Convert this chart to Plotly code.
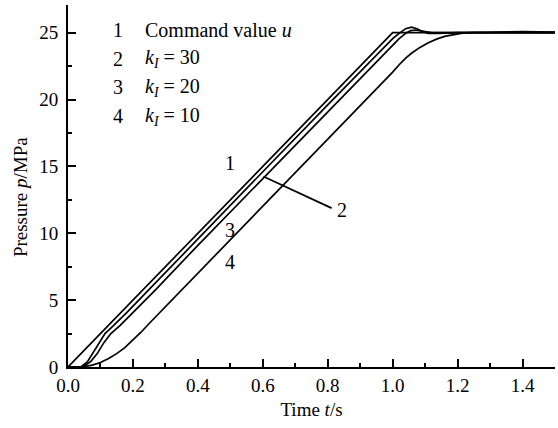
import plotly.graph_objects as go

# Command value u
t_cmd = [0.0, 1.0, 1.5]
p_cmd = [0.0, 25.0, 25.0]

# k_I = 30
t_k30 = [0.0, 0.04, 0.06, 0.08, 0.10, 0.114, 0.14, 0.18, 0.25, 0.4, 0.6, 0.8, 0.98,
         1.0, 1.02, 1.04, 1.058, 1.075, 1.09, 1.11, 1.14, 1.2, 1.3, 1.4, 1.5]
p_k30 = [0.0, 0.0, 0.4, 1.2, 2.0, 2.5, 3.1, 4.05, 5.8, 9.6, 14.6, 19.6, 24.08,
         24.55, 24.95, 25.3, 25.42, 25.3, 25.1, 24.95, 24.95, 25.0, 25.02, 25.08, 25.04]

# k_I = 20
t_k20 = [0.0, 0.045, 0.07, 0.09, 0.11, 0.132, 0.16, 0.2, 0.271, 0.4, 0.6, 0.8, 0.98,
         1.0, 1.02, 1.04, 1.055, 1.07, 1.09, 1.12, 1.2, 1.3, 1.4, 1.5]
p_k20 = [0.0, 0.0, 0.4, 1.0, 1.8, 2.5, 3.1, 4.05, 5.8, 9.1, 14.1, 19.1, 23.6,
         24.1, 24.55, 24.95, 25.15, 25.2, 25.1, 25.0, 25.0, 25.0, 24.98, 24.98]

# k_I = 10
t_k10 = [0.0, 0.03, 0.05, 0.075, 0.1, 0.125, 0.15, 0.175, 0.2, 0.225, 0.25, 0.3, 0.4,
         0.6, 0.8, 0.95, 0.975, 1.0, 1.02, 1.04, 1.06, 1.084, 1.11, 1.135, 1.16,
         1.186, 1.21, 1.24, 1.3, 1.4, 1.5]
p_k10 = [0.0, 0.0, 0.03, 0.14, 0.34, 0.63, 1.0, 1.45, 2.0, 2.6, 3.25, 4.5, 7.0,
         12.0, 17.0, 20.75, 21.4, 22.05, 22.6, 23.1, 23.5, 23.9, 24.25, 24.52, 24.72,
         24.86, 24.95, 25.0, 25.02, 25.06, 25.03]

legend_nums = ["1", "2", "3", "4"]
legend_texts = ["Command value <i>u</i>", "<i>k</i><sub><i>I</i></sub> = 30",
                "<i>k</i><sub><i>I</i></sub> = 20", "<i>k</i><sub><i>I</i></sub> = 10"]
legend_y = [25.2, 23.04, 20.91, 18.74]

curve_labels = ["1", "3", "4", "2"]
curve_label_t = [0.5, 0.5, 0.5, 0.844]
curve_label_p = [15.28, 10.26, 7.87, 11.76]

FONT = "Liberation Serif, Times New Roman, serif"

fig = go.Figure()
for tt, pp in [(t_cmd, p_cmd), (t_k30, p_k30), (t_k20, p_k20), (t_k10, p_k10)]:
    fig.add_trace(go.Scatter(x=tt, y=pp, mode="lines",
                             line=dict(color="black", width=1.7),
                             showlegend=False, hoverinfo="skip"))

for num, txt, yy in zip(legend_nums, legend_texts, legend_y):
    fig.add_annotation(x=0.155, y=yy, text=num, showarrow=False, xanchor="center",
                       yanchor="middle", font=dict(family=FONT, size=20, color="black"))
    fig.add_annotation(x=0.232, y=yy, text=txt, showarrow=False, xanchor="left",
                       yanchor="middle", font=dict(family=FONT, size=20, color="black"))

for lab, tx, py in zip(curve_labels, curve_label_t, curve_label_p):
    fig.add_annotation(x=tx, y=py, text=lab, showarrow=False, xanchor="center",
                       yanchor="middle", font=dict(family=FONT, size=20, color="black"))

# leader line for label 2
fig.add_shape(type="line", x0=0.602, y0=14.25, x1=0.812, y1=11.88,
              xref="x", yref="y", line=dict(color="black", width=1.7))

# y-axis title
fig.add_annotation(xref="paper", yref="paper", x=-0.096, y=0.47,
                   text="Pressure <i>p</i>/MPa", textangle=-90, showarrow=False,
                   xanchor="center", yanchor="middle",
                   font=dict(family=FONT, size=19, color="black"))

fig.update_layout(
    width=558, height=428,
    margin=dict(l=67.7, r=2.8, t=5, b=60.7),
    paper_bgcolor="white", plot_bgcolor="white",
    font=dict(family=FONT, size=19, color="black"),
    xaxis=dict(range=[0, 1.5], dtick=0.2, tick0=0, tickformat=".1f",
               showline=True, linecolor="black", linewidth=2,
               ticks="inside", ticklen=8, tickwidth=2, tickcolor="black",
               minor=dict(dtick=0.1, ticks="inside", ticklen=4, tickwidth=1.5, tickcolor="black"),
               showgrid=False, zeroline=False, mirror=False,
               title=dict(text="Time <i>t</i>/s", font=dict(family=FONT, size=19), standoff=8),
               tickfont=dict(family=FONT, size=19)),
    yaxis=dict(range=[0, 27.07], dtick=5, tick0=0,
               showline=True, linecolor="black", linewidth=2,
               ticks="inside", ticklen=8, tickwidth=2, tickcolor="black",
               minor=dict(dtick=2.5, ticks="inside", ticklen=4, tickwidth=1.5, tickcolor="black"),
               showgrid=False, zeroline=False, mirror=False,
               ticklabelstandoff=4,
               tickfont=dict(family=FONT, size=19)),
)

fig.write_html("out.html")
